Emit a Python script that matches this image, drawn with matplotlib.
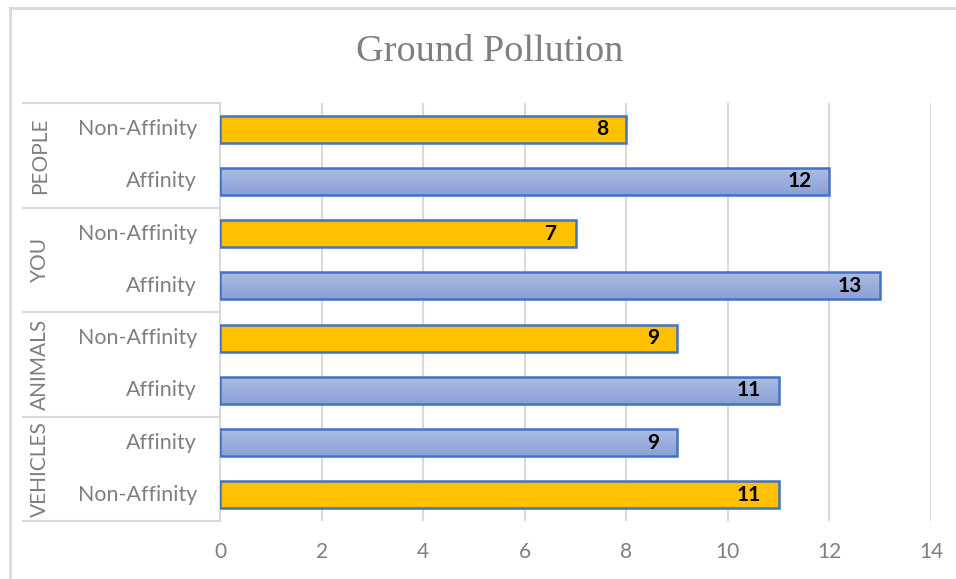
import numpy as np
import matplotlib.pyplot as plt
from matplotlib.lines import Line2D
from matplotlib.colors import LinearSegmentedColormap

groups = ["PEOPLE", "YOU", "ANIMALS", "VEHICLES"]
sub_labels = ["Non-Affinity", "Affinity",
              "Non-Affinity", "Affinity",
              "Non-Affinity", "Affinity",
              "Affinity", "Non-Affinity"]
values = [8, 12, 7, 13, 9, 11, 9, 11]
x_ticks = [0, 2, 4, 6, 8, 10, 12, 14]

gray_txt = "#7f7f7f"
grid_col = "#d9d9d9"
edge_col = "#4472c4"
gold = "#ffc000"

plt.rcParams["font.family"] = ["Lato", "DejaVu Sans"]

fig = plt.figure(figsize=(9.56, 5.79), dpi=100)
ax = fig.add_axes([220 / 956, 1 - 521 / 579, 711 / 956, 418 / 579])

# chart frame (only top and left edges show)
fig.add_artist(Line2D([9.5 / 956, 9.5 / 956], [0, 1 - 7.5 / 579], color=grid_col, lw=2))
fig.add_artist(Line2D([9.5 / 956, 1], [1 - 7.5 / 579, 1 - 7.5 / 579], color=grid_col, lw=2))

ypos = np.arange(len(values))
bar_h = 0.52

# blue gradient used for the Affinity bars
grad = np.linspace(0, 1, 64).reshape(-1, 1)
blue_cmap = LinearSegmentedColormap.from_list("bl", ["#aebde3", "#8aa1d6"])

for y, v, lab in zip(ypos, values, sub_labels):
    if lab == "Affinity":
        bar = ax.barh(y, v, height=bar_h, color="none", edgecolor=edge_col,
                      linewidth=1.8, zorder=4)[0]
        im = ax.imshow(grad, cmap=blue_cmap, aspect="auto",
                       extent=(0, v, y + bar_h / 2, y - bar_h / 2), zorder=3)
        im.set_clip_path(bar)
    else:
        ax.barh(y, v, height=bar_h, color=gold, edgecolor=edge_col,
                linewidth=1.8, zorder=3)
    ax.annotate(str(v), xy=(v, y), xytext=(-13, 0), textcoords="offset points",
                ha="right", va="center", fontsize=15, fontweight="bold",
                color="black", zorder=5)

ax.set_xlim(0, 14)
ax.set_ylim(len(values) - 0.5, -0.5)
ax.set_xticks(x_ticks)
ax.set_yticks([])
ax.grid(axis="x", color=grid_col, lw=1.5, zorder=0)
ax.tick_params(axis="x", length=0, pad=15, labelsize=15, labelcolor=gray_txt)
for s in ["top", "right", "bottom"]:
    ax.spines[s].set_visible(False)
ax.spines["left"].set_color(grid_col)
ax.spines["left"].set_linewidth(1.5)

# two-level category axis
tr = ax.get_yaxis_transform()
x_sub = -23 / 711
x_grp = -180 / 711
x_box = -197 / 711
for y, lab in zip(ypos, sub_labels):
    ax.text(x_sub, y, lab, transform=tr, ha="right", va="center",
            fontsize=15.4, color=gray_txt)
for i, g in enumerate(groups):
    ax.text(x_grp, 2 * i + 0.5, g, transform=tr, ha="center", va="center",
            rotation=90, fontsize=15, color=gray_txt)
for k in range(len(groups) + 1):
    ax.plot([x_box, 0], [2 * k - 0.5] * 2, transform=tr, color=grid_col,
            lw=1.5, clip_on=False)

fig.text(490 / 956, 1 - 52 / 579, "Ground Pollution", ha="center", va="center",
         fontsize=27.5, color=gray_txt, family=["Liberation Serif", "DejaVu Serif"])

fig.savefig("out.png", dpi=100)
